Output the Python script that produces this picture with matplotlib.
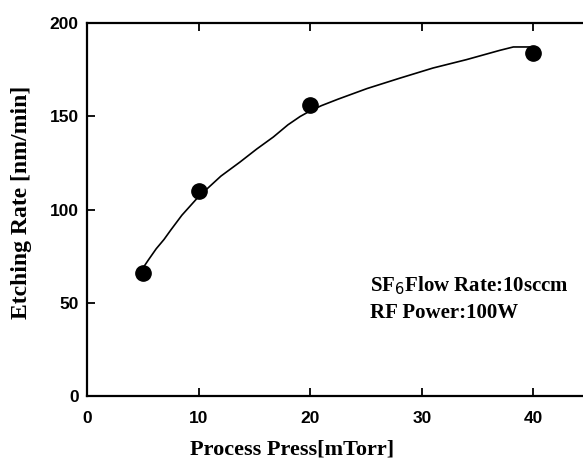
import matplotlib.pyplot as plt

# measured points
pressure = [5, 10, 20, 40]
etch_rate = [66, 110, 156, 184]

# hand-drawn guide curve
curve_x = [5.05, 5.5, 6.2, 6.9, 7.5, 8.5, 10, 12, 13.7, 15.2, 16.7, 18, 19.1, 20, 21, 22.5,
           25.1, 28, 31, 34, 37, 38.2, 39.7]
curve_y = [69, 73, 79, 84, 89, 97, 107, 118, 125.5, 132.5, 139, 145.5, 150, 153, 155.8, 159.3,
           165, 170.5, 176, 180.5, 185.5, 187.3, 187.3]

x_ticks = [0, 10, 20, 30, 40]
y_ticks = [0, 50, 100, 150, 200]

serif_bold = dict(family="Liberation Serif", fontweight="bold")

fig = plt.figure(figsize=(5.83, 4.61), dpi=100)
ax = fig.add_axes([87 / 583, 1 - 396 / 461, (600 - 87) / 583, (396 - 23.3) / 461])

ax.plot(curve_x, curve_y, color="black", linewidth=1.2)
ax.plot(pressure, etch_rate, "o", color="black", markersize=11)

ax.set_xlim(0, (600 - 87) / 11.16)
ax.set_ylim(0, 200)
ax.set_xticks(x_ticks)
ax.set_yticks(y_ticks)
ax.tick_params(direction="in", top=True, right=True, length=6, width=1.3,
               labelsize=12.5, pad=6)
ax.tick_params(axis="x", pad=11)
for lab in ax.get_xticklabels() + ax.get_yticklabels():
    lab.set_family("Liberation Sans")
    lab.set_fontweight("bold")
for sp in ax.spines.values():
    sp.set_linewidth(1.6)

# axis titles placed in figure pixels
fig.text(292 / 583, 1 - 449 / 461, "Process Press[mTorr]", fontsize=16,
         ha="center", va="center", **serif_bold)
fig.text(22 / 583, 1 - 202 / 461, "Etching Rate [nm/min]", fontsize=17,
         rotation=90, ha="center", va="center", **serif_bold)

ax.text(0.552, 0.296, r"SF$_6$Flow Rate:10sccm", transform=ax.transAxes,
        fontsize=15, va="center", ha="left", **serif_bold)
ax.text(0.552, 0.222, "RF Power:100W", transform=ax.transAxes,
        fontsize=15, va="center", ha="left", **serif_bold)

fig.savefig("out.png", dpi=100)
